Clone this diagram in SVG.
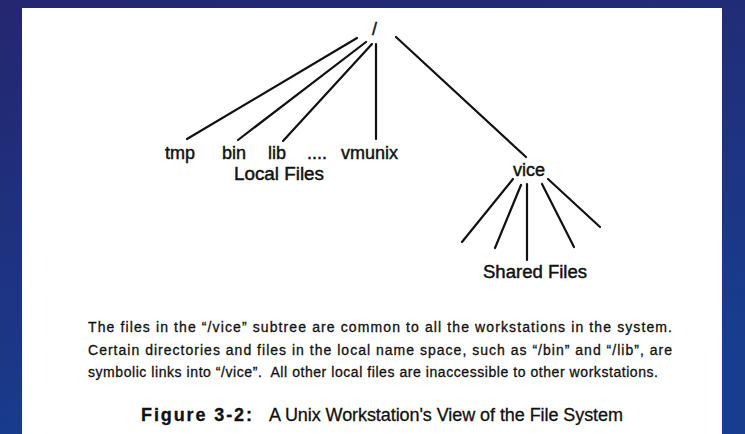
<svg xmlns="http://www.w3.org/2000/svg" width="745" height="434" viewBox="0 0 745 434">
  <defs>
    <linearGradient id="bg" x1="0" y1="0" x2="0.3" y2="1">
      <stop offset="0" stop-color="#25266f"/>
      <stop offset="1" stop-color="#183d8e"/>
    </linearGradient>
    <style>
      .lbl { font-family: "Liberation Sans", Arial, sans-serif; font-size: 18px; fill: #111; stroke: #111; stroke-width: 0.45; }
      .para { font-family: "Liberation Sans", Arial, sans-serif; font-size: 14px; fill: #111; stroke: #111; stroke-width: 0.3; }
      .cap { font-family: "Liberation Sans", Arial, sans-serif; font-size: 18px; fill: #111; stroke: #111; stroke-width: 0.3; }
      .edge { stroke: #111; stroke-width: 2.2; fill: none; stroke-linecap: round; }
    </style>
  </defs>
  <rect x="0" y="0" width="745" height="434" fill="url(#bg)"/>
  <rect x="22" y="8" width="700" height="426" fill="#ffffff"/>

  <g id="connectors">
    <line class="edge" x1="357" y1="38" x2="187" y2="139"/>
    <line class="edge" x1="366" y1="42" x2="238" y2="140"/>
    <line class="edge" x1="372" y1="44" x2="283" y2="141"/>
    <line class="edge" x1="376" y1="44" x2="376" y2="139"/>
    <line class="edge" x1="396" y1="37" x2="526" y2="157"/>
    <line class="edge" x1="513" y1="179" x2="462" y2="242"/>
    <line class="edge" x1="521" y1="185" x2="495" y2="248"/>
    <line class="edge" x1="527" y1="184" x2="527" y2="260"/>
    <line class="edge" x1="542" y1="184" x2="574" y2="247"/>
    <line class="edge" x1="548" y1="179" x2="600" y2="227"/>
  </g>

  <g id="root"><text class="lbl" x="372" y="35">/</text></g>
  <g id="tmp"><text class="lbl" x="165" y="159">tmp</text></g>
  <g id="bin"><text class="lbl" x="222" y="159">bin</text></g>
  <g id="lib"><text class="lbl" x="268" y="159">lib</text></g>
  <g id="more"><text class="lbl" x="307" y="159">....</text></g>
  <g id="vmunix"><text class="lbl" x="341" y="159">vmunix</text></g>
  <g id="local-files"><text class="lbl" x="234" y="180" textLength="90" lengthAdjust="spacingAndGlyphs">Local Files</text></g>
  <g id="vice"><text class="lbl" x="513" y="176">vice</text></g>
  <g id="shared-files"><text class="lbl" x="483" y="278" textLength="104" lengthAdjust="spacingAndGlyphs">Shared Files</text></g>

  <g id="description">
    <text class="para" x="88" y="332" textLength="584" lengthAdjust="spacing">The files in the “/vice” subtree are common to all the workstations in the system.</text>
    <text class="para" x="88" y="355" textLength="584" lengthAdjust="spacing">Certain directories and files in the local name space, such as “/bin” and “/lib”, are</text>
    <text class="para" x="88" y="377" textLength="570" lengthAdjust="spacing">symbolic links into “/vice”.&#160; All other local files are inaccessible to other workstations.</text>
  </g>

  <g id="caption">
    <text class="cap" x="141" y="421" font-size="19" font-weight="bold" textLength="111" lengthAdjust="spacing">Figure 3-2:</text>
    <text class="cap" x="269" y="421" textLength="354" lengthAdjust="spacing">A Unix Workstation's View of the File System</text>
  </g>
</svg>
